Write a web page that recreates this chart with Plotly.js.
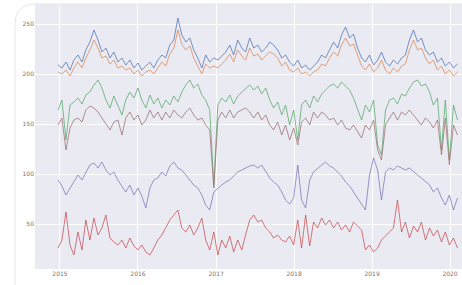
<!DOCTYPE html>
<html><head><meta charset="utf-8">
<script src="https://cdn.plot.ly/plotly-3.0.1.min.js"></script>
<style>html,body{margin:0;padding:0;background:#fff;}#chart{width:462px;height:285px;}</style>
</head><body><div id="chart"></div>
<script>
const startDate = "2014-12-23";
const stepDays = 18.7;
const seriesNames = ["Series A","Series B","Series C","Series D","Series E","Series F"];
const seriesColors = ["#4C72B0","#DD8452","#55A868","#9A6F72","#8172B3","#C44E52"];
const yTickVals = [50,100,150,200,250];
const xTickVals = ["2015-01-01","2016-01-01","2017-01-01","2018-01-01","2019-01-01","2020-01-01"];
const xTickText = ["2015","2016","2017","2018","2019","2020"];

const seriesA = [209,206,212,204,214,219,212,224,232,244,
234,222,226,216,222,212,216,209,214,206,
211,204,208,212,206,214,219,216,229,234,
256,239,232,236,224,216,206,219,212,216,
214,218,222,229,219,234,226,222,236,226,
229,222,226,232,229,224,216,219,212,208,
214,206,209,204,208,212,219,216,224,232,
226,239,247,236,240,226,216,212,219,209,
214,222,212,208,214,210,216,219,234,244,
232,236,224,219,222,212,216,208,212,206,
210];
const seriesB = [202,200,204,198,206,212,206,216,224,234,
226,216,218,210,214,206,208,204,206,200,
204,198,202,204,200,206,212,208,220,226,
244,230,224,228,216,208,200,210,206,208,
206,210,214,220,212,224,218,214,226,218,
220,214,218,222,220,216,208,212,204,202,
206,200,202,198,202,204,210,208,216,222,
218,229,236,228,230,218,208,204,210,202,
206,214,204,200,206,202,208,210,224,234,
224,226,216,210,214,204,208,200,204,198,
202];
const seriesC = [164,174,134,169,172,176,170,179,182,189,
194,186,174,166,178,169,159,174,182,176,
186,174,166,179,170,176,166,174,169,178,
172,182,189,194,186,190,179,174,164,89,
169,176,172,179,170,178,182,186,189,184,
188,180,186,174,166,172,159,169,149,164,
134,169,174,166,178,172,180,184,188,190,
186,192,188,184,176,164,154,169,162,174,
129,119,164,174,176,170,180,178,186,192,
194,188,190,182,169,176,124,174,114,169,
154];
const seriesD = [149,156,124,146,154,156,152,164,168,166,
162,156,149,144,152,154,139,156,162,154,
159,149,154,164,156,162,154,162,156,164,
159,156,162,166,159,154,156,149,144,86,
154,162,156,164,156,162,164,166,162,156,
162,154,159,149,144,152,139,149,134,146,
129,152,156,149,162,156,162,159,154,156,
149,154,146,144,149,142,136,149,144,154,
124,114,149,156,162,154,162,159,164,159,
154,149,156,152,146,154,119,156,109,149,
139];
const seriesE = [94,88,79,86,92,99,94,102,109,111,
106,112,104,99,102,94,88,82,89,79,
86,78,66,86,94,96,102,98,108,112,
106,104,99,94,89,86,79,69,64,82,
86,89,92,94,98,102,104,106,108,109,
106,109,102,96,92,89,82,74,70,76,
109,74,66,94,102,106,109,112,108,106,
102,98,92,88,82,76,69,64,99,116,
104,74,102,106,104,108,106,104,106,102,
99,96,92,89,82,86,76,69,79,64,
76];
const seriesF = [26,34,62,29,19,42,24,54,34,56,
39,46,59,36,32,29,34,26,36,28,
24,29,22,19,26,34,39,46,54,59,
64,46,42,49,39,46,56,34,24,42,
19,34,26,38,22,34,24,39,54,59,
52,54,46,42,36,39,34,32,38,29,
54,26,59,28,52,46,56,49,54,46,
52,44,49,42,52,48,44,24,29,22,
26,34,38,42,46,74,42,52,36,48,
42,52,34,46,38,44,32,42,29,36,
26];

const allSeries = [seriesA,seriesB,seriesC,seriesD,seriesE,seriesF];
const t0 = Date.parse(startDate + "T00:00:00Z");
const dates = seriesA.map((_, i) => new Date(t0 + i*stepDays*86400000).toISOString().slice(0,10));

const traces = allSeries.map((ys, k) => ({
  x: dates, y: ys, type: "scatter", mode: "lines", name: seriesNames[k],
  line: {color: seriesColors[k], width: 1}, opacity: 0.75
}));

const layout = {
  width: 462, height: 285,
  margin: {l: 35, r: 0, t: 4, b: 16},
  paper_bgcolor: "#ffffff", plot_bgcolor: "#EAEAF2",
  showlegend: false,
  font: {family: "DejaVu Sans", size: 6, color: "#666"},
  xaxis: {type: "date", range: ["2014-09-06","2020-02-26"], tickvals: xTickVals, ticktext: xTickText,
    showgrid: true, gridcolor: "#ffffff", gridwidth: 1, zeroline: false, showline: false, ticks: "",
    tickfont: {size: 6, color: "#777"}},
  yaxis: {range: [5, 270], tickvals: yTickVals, showgrid: true, gridcolor: "#ffffff", gridwidth: 1,
    zeroline: false, showline: false, ticks: "", tickfont: {size: 6, color: "#777"}},
  shapes: [{type: "path", xref: "paper", yref: "paper",
    path: "M -0.0468,-0.0604 L -0.0468,0.9208 Q -0.0468,1 0,1 L 1,1",
    line: {color: "#e6e6e6", width: 1}}]
};
Plotly.newPlot("chart", traces, layout, {staticPlot: true, displayModeBar: false});
</script></body></html>
